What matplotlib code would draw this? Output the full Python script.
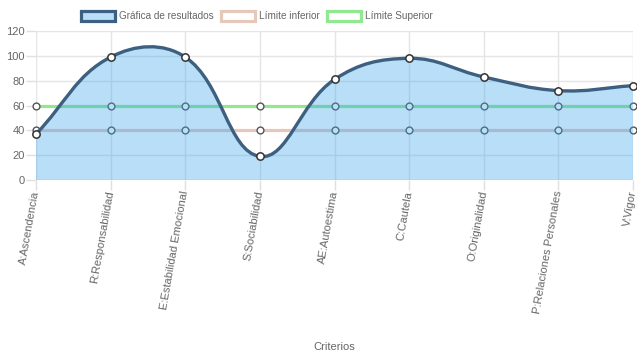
import matplotlib
matplotlib.use("Agg")
import matplotlib.pyplot as plt
from matplotlib.path import Path
from matplotlib.patches import PathPatch, Patch
import numpy as np

# data
criterios = ["A:Ascendencia", "R:Responsabilidad", "E:Estabilidad Emocional",
             "S:Sociabilidad", "AE:Autoestima", "C:Cautela", "O:Originalidad",
             "P:Relaciones Personales", "V:Vigor"]
resultados = [37, 99, 99, 19, 81, 98, 83, 72, 76]
limite_inferior = [40, 40, 40, 40, 40, 40, 40, 40, 40]
limite_superior = [60, 60, 60, 60, 60, 60, 60, 60, 60]
y_ticks = [0, 20, 40, 60, 80, 100, 120]

plt.rcParams['font.family'] = ['Liberation Sans', 'DejaVu Sans']
gray_txt = "#666666"
line_col = "#3e6080"
fill_col = (54/255, 162/255, 235/255, 0.35)
inf_col = "#e6c8ba"
sup_col = "#90e890"

W, H = 637, 359
fig = plt.figure(figsize=(W/100, H/100), dpi=100)
ax = fig.add_axes([36/W, 1 - 180/H, (633-36)/W, (180-31)/H])
x = np.arange(len(criterios))
ax.set_xlim(0, len(criterios) - 1)
ax.set_ylim(0, 120)


# Chart.js style bezier (tension 0.4), control points computed in pixel space
def spline_path(xs, ys, tension=0.4):
    pts = ax.transData.transform(np.column_stack([xs, ys]))
    n = len(pts)
    verts = [pts[0]]
    codes = [Path.MOVETO]
    cps = []
    for i in range(n):
        prev = pts[i-1] if i > 0 else pts[i]
        nxt = pts[i+1] if i < n-1 else pts[i]
        d01 = np.hypot(*(pts[i] - prev))
        d12 = np.hypot(*(nxt - pts[i]))
        tot = d01 + d12
        s01 = d01 / tot if tot else 0
        s12 = d12 / tot if tot else 0
        cp_prev = pts[i] - tension * s01 * (nxt - prev)
        cp_next = pts[i] + tension * s12 * (nxt - prev)
        cps.append((cp_prev, cp_next))
    for i in range(1, n):
        verts += [cps[i-1][1], cps[i][0], pts[i]]
        codes += [Path.CURVE4] * 3
    inv = ax.transData.inverted()
    return inv.transform(np.array(verts)), codes


# grid
for v in y_ticks:
    ax.axhline(v, color="#e5e5e5" if v else "#cccccc", lw=1, zorder=0)
for xi in x:
    ax.axvline(xi, color="#e5e5e5", lw=1, zorder=0)
for s in ax.spines.values():
    s.set_visible(False)

# limit lines (under the fill)
ax.plot(x, limite_inferior, color=inf_col, lw=2.3, zorder=1)
ax.plot(x, limite_superior, color=sup_col, lw=2.3, zorder=1)
ax.scatter(x, limite_inferior, s=24, facecolor="white", edgecolor="#555555", lw=1, zorder=2, clip_on=False)
ax.scatter(x, limite_superior, s=24, facecolor="white", edgecolor="#555555", lw=1, zorder=2, clip_on=False)

# resultados curve and fill to zero
verts, codes = spline_path(x, resultados)
fill_verts = list(verts) + [[x[-1], 0], [x[0], 0], verts[0]]
fill_codes = list(codes) + [Path.LINETO, Path.LINETO, Path.CLOSEPOLY]
ax.add_patch(PathPatch(Path(fill_verts, fill_codes), facecolor=fill_col, edgecolor="none", zorder=3))
ax.add_patch(PathPatch(Path(verts, codes), facecolor="none", edgecolor=line_col, lw=2.4, zorder=4))
ax.scatter(x, resultados, s=28, facecolor="white", edgecolor="#333333", lw=1.1, zorder=5, clip_on=False)

# ticks
ax.set_yticks(y_ticks)
ax.set_xticks(x)
ax.set_xticklabels(criterios, rotation=80, ha="right", va="center", rotation_mode="anchor")
ax.tick_params(axis="both", colors="#e0e0e0", labelcolor=gray_txt, labelsize=8, length=7, width=1)
ax.tick_params(axis="x", pad=1)
ax.tick_params(axis="y", pad=1)
fig.text((36+633)/2/W, 1 - 347/H, "Criterios", ha="center", va="center", color=gray_txt, fontsize=8)

# legend
handles = [Patch(facecolor=fill_col, edgecolor=line_col, lw=2.3),
           Patch(facecolor="white", edgecolor=inf_col, lw=2.3),
           Patch(facecolor="white", edgecolor=sup_col, lw=2.3)]
fig.legend(handles, ["Gráfica de resultados", "Límite inferior", "Límite Superior"],
           loc="center", bbox_to_anchor=(257/W, 1 - 16/H), ncol=3, frameon=False,
           fontsize=7.2, labelcolor=gray_txt, handlelength=3.4, handleheight=1.1,
           handletextpad=0.4, columnspacing=0.75)

fig.savefig("out.png", dpi=100)
